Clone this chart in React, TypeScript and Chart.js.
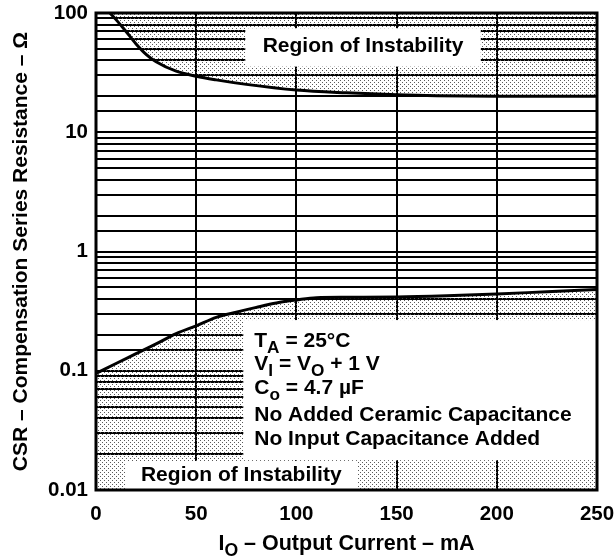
import { useEffect, useRef } from 'react';
import { Chart, registerables } from 'chart.js';

Chart.register(...registerables);

// ---- data ----
const upperCurrent = [7, 10, 15, 20, 25, 30, 40, 50, 60, 75, 100, 125, 150, 170, 200, 250];
const upperCSR = [100, 88, 70, 55, 45, 39, 32.5, 29.5, 27.5, 25.2, 22.6, 21.4, 20.6, 20.2, 20, 20];

const lowerCurrent = [0, 10, 20, 30, 40, 50, 60, 70, 80, 90, 100, 110, 125, 150, 175, 200, 225, 250];
const lowerCSR = [0.095, 0.115, 0.139, 0.168, 0.205, 0.238, 0.28, 0.31, 0.34, 0.37, 0.392, 0.41, 0.413, 0.415, 0.425, 0.44, 0.46, 0.48];

const xMin = 0;
const xMax = 250;
const xStep = 50;
const yMin = 0.01;
const yMax = 100;

const regionLabel = 'Region of Instability';

type Seg = { t: string; sub?: boolean };
const xTitleSegs: Seg[] = [{ t: 'I' }, { t: 'O', sub: true }, { t: ' \u2013 Output Current \u2013 mA' }];
const yTitleText = 'CSR \u2013 Compensation Series Resistance \u2013 \u03A9';
const conditionLines: Seg[][] = [
  [{ t: 'T' }, { t: 'A', sub: true }, { t: ' = 25\u00B0C' }],
  [{ t: 'V' }, { t: 'I', sub: true }, { t: ' = V' }, { t: 'O', sub: true }, { t: ' + 1 V' }],
  [{ t: 'C' }, { t: 'o', sub: true }, { t: ' = 4.7 \u00B5F' }],
  [{ t: 'No Added Ceramic Capacitance' }],
  [{ t: 'No Input Capacitance Added' }],
];

// annotation boxes in data coordinates
const upperLabelBox = { x0: 74.5, x1: 192, y0: 35.5, y1: 74.5 };
const lowerLabelBox = { x0: 14.5, x1: 130.5, y0: 0.01, y1: 0.0175 };
const conditionsBox = { x0: 73.5, x1: 250, y0: 0.0178, y1: 0.266 };

const FONT = '"Liberation Sans", Arial, Helvetica, sans-serif';

function drawSegs(ctx: CanvasRenderingContext2D, segs: Seg[], x: number, y: number, size: number, align: 'left' | 'center') {
  const subSize = size * 0.82;
  const widths = segs.map((s) => {
    ctx.font = `bold ${s.sub ? subSize : size}px ${FONT}`;
    return ctx.measureText(s.t).width;
  });
  const total = widths.reduce((a, b) => a + b, 0);
  let cx = align === 'center' ? x - total / 2 : x;
  ctx.textAlign = 'left';
  ctx.textBaseline = 'alphabetic';
  segs.forEach((s, i) => {
    ctx.font = `bold ${s.sub ? subSize : size}px ${FONT}`;
    ctx.fillText(s.t, cx, s.sub ? y + size * 0.3 : y);
    cx += widths[i];
  });
}

const overlayPlugin = {
  id: 'overlay',
  afterDatasetsDraw(chart: any) {
    const { ctx, chartArea, scales } = chart;
    const xs = scales.x;
    const ys = scales.y;
    const rect = (b: { x0: number; x1: number; y0: number; y1: number }) => {
      const l = xs.getPixelForValue(b.x0);
      const r = xs.getPixelForValue(b.x1);
      const t = ys.getPixelForValue(b.y1);
      const bt = ys.getPixelForValue(b.y0);
      return { l, r, t, b: bt };
    };
    ctx.save();
    ctx.fillStyle = '#ffffff';
    const ub = rect(upperLabelBox);
    const lb = rect(lowerLabelBox);
    const cb = rect(conditionsBox);
    [ub, lb, cb].forEach((r) => ctx.fillRect(r.l, r.t, r.r - r.l, r.b - r.t));

    ctx.fillStyle = '#000';
    drawSegs(ctx, [{ t: regionLabel }], (ub.l + ub.r) / 2, ub.t + 23.5, 21, 'center');
    drawSegs(ctx, [{ t: regionLabel }], (lb.l + lb.r) / 2, lb.t + 19.5, 21, 'center');
    const offs = [27, 50, 74, 101, 125];
    conditionLines.forEach((line, i) => {
      drawSegs(ctx, line, cb.l + 11, cb.t + offs[i], 21, 'left');
    });

    // frame
    ctx.strokeStyle = '#000';
    ctx.lineWidth = 3;
    ctx.strokeRect(chartArea.left, chartArea.top, chartArea.right - chartArea.left, chartArea.bottom - chartArea.top);
    ctx.restore();
  },
  afterDraw(chart: any) {
    const { ctx, chartArea } = chart;
    ctx.save();
    ctx.fillStyle = '#000';
    drawSegs(ctx, xTitleSegs, (chartArea.left + chartArea.right) / 2, 550, 21.5, 'center');
    ctx.translate(27, (chartArea.top + chartArea.bottom) / 2);
    ctx.rotate(-Math.PI / 2);
    drawSegs(ctx, [{ t: yTitleText }], 0, 0, 21, 'center');
    ctx.restore();
  },
};

export default function App() {
  const ref = useRef<HTMLCanvasElement | null>(null);
  useEffect(() => {
    const canvas = ref.current!;
    const c2d = canvas.getContext('2d')!;
    const tile = document.createElement('canvas');
    tile.width = 4;
    tile.height = 4;
    const tctx = tile.getContext('2d')!;
    tctx.fillStyle = '#5a5a5a';
    tctx.fillRect(0, 0, 1, 1);
    tctx.fillRect(2, 2, 1, 1);
    const stipple = c2d.createPattern(tile, 'repeat')!;

    const tickFont = { family: FONT, weight: 'bold' as const, size: 20.5 };

    const chart = new Chart(canvas, {
      type: 'line',
      data: {
        datasets: [
          {
            label: 'upper',
            data: upperCurrent.map((x, i) => ({ x, y: upperCSR[i] })),
            borderColor: '#000',
            borderWidth: 3,
            pointRadius: 0,
            cubicInterpolationMode: 'monotone',
            fill: 'end',
            backgroundColor: stipple,
          },
          {
            label: 'lower',
            data: lowerCurrent.map((x, i) => ({ x, y: lowerCSR[i] })),
            borderColor: '#000',
            borderWidth: 3,
            pointRadius: 0,
            cubicInterpolationMode: 'monotone',
            fill: 'start',
            backgroundColor: stipple,
          },
        ],
      },
      options: {
        animation: false,
        responsive: false,
        devicePixelRatio: 1,
        layout: { padding: { left: 0, right: 17, top: 13, bottom: 0 } },
        plugins: { legend: { display: false }, tooltip: { enabled: false } },
        scales: {
          x: {
            type: 'linear',
            min: xMin,
            max: xMax,
            ticks: { stepSize: xStep, color: '#000', font: tickFont, padding: 12 },
            grid: { color: '#000', lineWidth: 2, drawTicks: false },
            border: { display: false },
            afterFit: (s: any) => {
              s.height = 68;
              s.paddingLeft = 0;
              s.paddingRight = 0;
            },
          },
          y: {
            type: 'logarithmic',
            min: yMin,
            max: yMax,
            ticks: {
              autoSkip: false,
              color: '#000',
              font: tickFont,
              padding: 8,
              callback: (v: any) => {
                const n = Number(v);
                const l = Math.log10(n);
                return Math.abs(l - Math.round(l)) < 1e-6 ? String(n) : '';
              },
            },
            grid: { color: '#000', lineWidth: 2, drawTicks: false },
            border: { display: false },
            afterFit: (s: any) => {
              s.width = 96;
              s.paddingTop = 0;
              s.paddingBottom = 0;
            },
          },
        },
      },
      plugins: [overlayPlugin],
    } as any);
    return () => chart.destroy();
  }, []);
  return (
    <div style={{ position: 'fixed', left: 0, top: 0, width: 614, height: 558, background: '#fff' }}>
      <canvas ref={ref} width={614} height={558} style={{ display: 'block' }} />
    </div>
  );
}
